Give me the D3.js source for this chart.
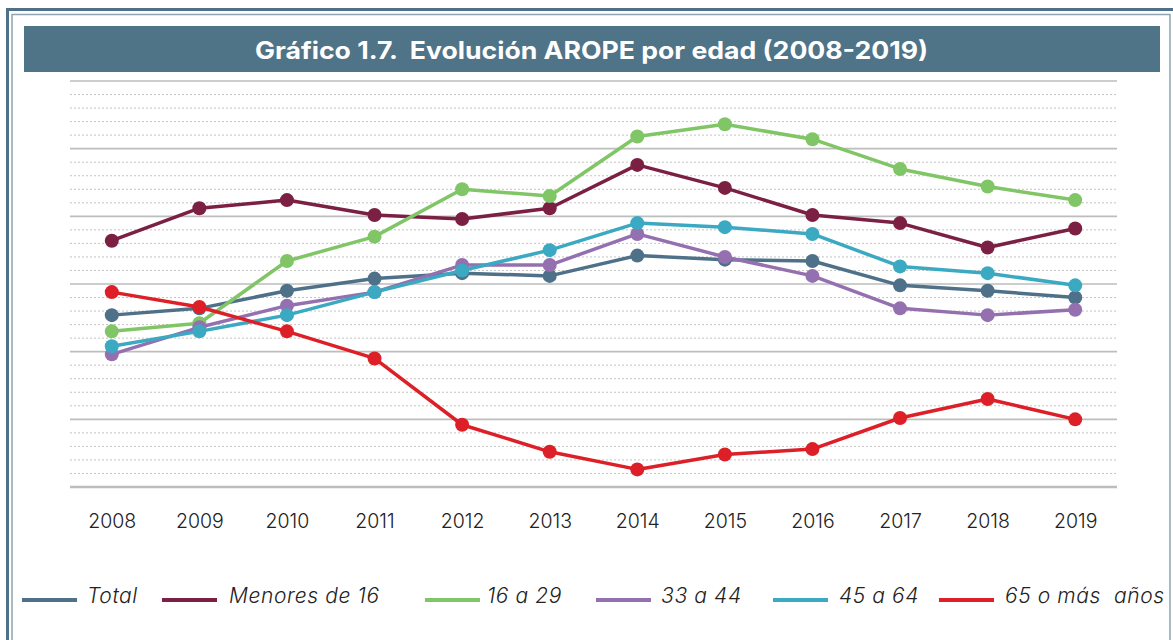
<!DOCTYPE html>
<html>
<head>
<meta charset="utf-8">
<script src="https://cdn.jsdelivr.net/npm/d3@7"></script>
<style>
    body { margin: 0; background: #fff; }
    svg { display: block; font-family: "Open Sans", sans-serif; }
</style>
</head>
<body>
<div id="chart"></div>
<script>
// --- data (% AROPE) ---
const years = ['2008', '2009', '2010', '2011', '2012', '2013', '2014', '2015', '2016', '2017', '2018', '2019'];

const total     = [22.7, 23.2, 24.5, 25.4, 25.8, 25.6, 27.1, 26.8, 26.7, 24.9, 24.5, 24.0];
const menores16 = [28.2, 30.6, 31.2, 30.1, 29.8, 30.6, 33.8, 32.1, 30.1, 29.5, 27.7, 29.1];
const de16a29   = [21.5, 22.1, 26.7, 28.5, 32.0, 31.5, 35.9, 36.8, 35.7, 33.5, 32.2, 31.2];
const de33a44   = [19.8, 21.8, 23.4, 24.4, 26.4, 26.4, 28.7, 27.0, 25.6, 23.2, 22.7, 23.1];
const de45a64   = [20.4, 21.5, 22.7, 24.4, 26.0, 27.5, 29.5, 29.2, 28.7, 26.3, 25.8, 24.9];
const mas65     = [24.4, 23.3, 21.5, 19.5, 14.6, 12.6, 11.3, 12.4, 12.8, 15.1, 16.5, 15.0];

const seriesNames = ['Total', 'Menores de 16', '16 a 29', '33 a 44', '45 a 64', '65 o más  años'];
const seriesColors = ['#4e7189', '#7b2043', '#80c566', '#9470b0', '#3ba9c2', '#dd1f27'];
const seriesValues = [total, menores16, de16a29, de33a44, de45a64, mas65];

const yTicks = d3.range(10, 41, 1);   // dotted every 1, solid every 5
const title = 'Gráfico 1.7.  Evolución AROPE por edad (2008-2019)';

// --- layout ---
const W = 1173, H = 640;
const plot = { left: 70, right: 1117, top: 81, bottom: 487 };
const legendX = [22, 162, 425, 596, 773, 939];       // start of each legend swatch
const legendTextX = [87, 229, 487, 661, 839, 1005];  // start of each legend label
const legendY = 600;

const svg = d3.select('#chart').append('svg')
    .attr('width', W)
    .attr('height', H);

// frame
svg.append('path')
    .attr('d', `M7.5,${H} V9.5 H${W}`)
    .attr('fill', 'none')
    .attr('stroke', '#4f7187')
    .attr('stroke-width', 3);
svg.append('path')
    .attr('d', `M12,${H} V14.5 H1170 V${H}`)
    .attr('fill', 'none')
    .attr('stroke', '#8ea4b3')
    .attr('stroke-width', 1.5);

// title bar
svg.append('rect')
    .attr('x', 24).attr('y', 26)
    .attr('width', 1136).attr('height', 46)
    .attr('fill', '#4f7387');
svg.append('text')
    .attr('x', 255).attr('y', 59)
    .attr('fill', '#fff')
    .attr('font-family', 'Inter, sans-serif')
    .attr('font-weight', 700)
    .attr('font-size', 24)
    .attr('textLength', 673)
    .attr('lengthAdjust', 'spacingAndGlyphs')
    .style('white-space', 'pre')
    .text(title);

// scales
const x = d3.scalePoint().domain(years).range([68, 1119]).padding(0.5);
const y = d3.scaleLinear().domain([10, 40]).range([plot.bottom, plot.top]);

// grid
const grid = svg.append('g');
grid.selectAll('line')
    .data(yTicks)
    .join('line')
    .attr('x1', plot.left).attr('x2', plot.right)
    .attr('y1', d => y(d)).attr('y2', d => y(d))
    .attr('stroke', d => d % 5 === 0 ? '#bdbdbd' : '#c4c4c4')
    .attr('stroke-width', d => d === 10 ? 2.5 : (d % 5 === 0 ? 1.6 : 1))
    .attr('stroke-dasharray', d => d % 5 === 0 ? null : '2,2');

// x axis labels
const xAxis = svg.append('g')
    .attr('transform', `translate(0,${plot.bottom})`)
    .call(d3.axisBottom(x).tickSize(0).tickPadding(27));
xAxis.select('.domain').remove();
xAxis.selectAll('text')
    .attr('font-family', 'Inter, sans-serif')
    .attr('font-weight', 300)
    .attr('font-size', 19.5)
    .attr('fill', '#222');

// series lines + markers
const line = d3.line()
    .x((d, i) => x(years[i]))
    .y(d => y(d));

seriesValues.forEach((vals, k) => {
    const g = svg.append('g');
    g.append('path')
        .datum(vals)
        .attr('d', line)
        .attr('fill', 'none')
        .attr('stroke', seriesColors[k])
        .attr('stroke-width', 3.5)
        .attr('stroke-linejoin', 'round');
    g.selectAll('circle')
        .data(vals)
        .join('circle')
        .attr('cx', (d, i) => x(years[i]))
        .attr('cy', d => y(d))
        .attr('r', 7)
        .attr('fill', seriesColors[k]);
});

// legend
const legend = svg.append('g');
seriesNames.forEach((name, k) => {
    legend.append('line')
        .attr('x1', legendX[k]).attr('x2', legendX[k] + 55)
        .attr('y1', legendY).attr('y2', legendY)
        .attr('stroke', seriesColors[k])
        .attr('stroke-width', 4);
    legend.append('text')
        .attr('x', legendTextX[k])
        .attr('y', legendY + 3)
        .attr('font-family', 'Inter, sans-serif')
        .attr('font-style', 'italic')
        .attr('font-weight', 300)
        .attr('font-size', 21)
        .attr('letter-spacing', 0.6)
        .attr('fill', '#222')
        .style('white-space', 'pre')
        .text(name);
});
</script>
</body>
</html>
